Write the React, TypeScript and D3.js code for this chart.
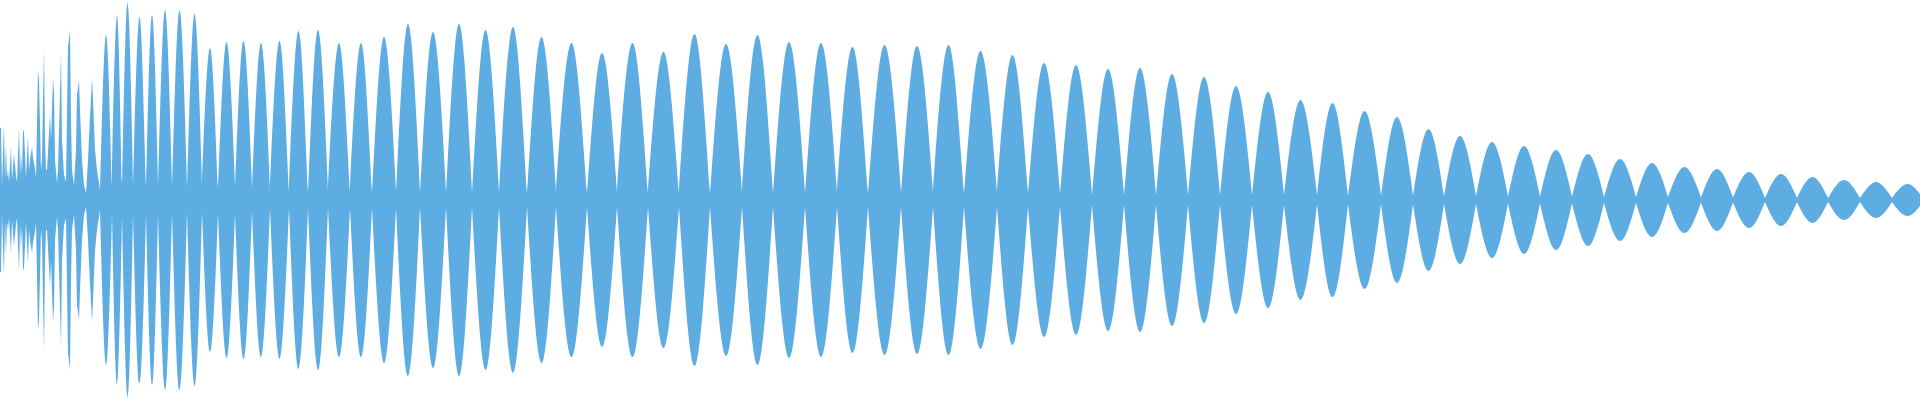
import * as d3 from 'd3';
import { useEffect, useRef } from 'react';

const width = 1920;
const height = 400;
const color = '#5dade2';

// onset: dense noisy spikes before the regular cycles start
const onsetTime = [
  0, 1, 2, 4, 5, 6, 7, 8, 9, 11, 12, 14, 16, 17, 19, 20, 21, 22, 23, 24, 26, 28,
  29, 30, 32, 33, 35, 36, 38, 39, 41, 42, 44, 45, 46, 47, 50, 51, 53, 54, 55, 57,
  58, 61, 62, 64, 66, 68, 70, 71, 72, 74, 76, 77, 79, 80, 82, 84, 86, 88, 89, 92,
  93, 95, 97, 100,
];
const onsetAmp = [
  72, 72, 14, 76, 20, 55, 22, 30, 18, 53, 20, 46, 24, 18, 72, 25, 48, 25, 70, 68,
  22, 64, 30, 40, 53, 42, 32, 22, 131, 119, 30, 40, 153, 60, 30, 30, 85, 60, 122,
  107, 40, 17, 30, 147, 60, 25, 18, 153, 170, 80, 30, 15, 50, 105, 120, 90, 40, 15,
  7, 40, 63, 122, 100, 50, 30, 10,
];

// regular cycles: boundaries (near-zero crossings) and envelope peak of each lobe
const crossings = [
  100, 112, 122, 133, 146, 158, 172, 187, 202, 218, 235, 252, 270, 289, 308, 328,
  350, 372, 396, 420, 446, 472, 499, 527, 556, 587, 617, 648, 679, 710, 742, 773,
  805, 837, 868, 901, 933, 964, 997, 1028, 1060, 1092, 1124, 1156, 1188, 1220,
  1252, 1284, 1317, 1348, 1381, 1413, 1444, 1476, 1508, 1540, 1572, 1604, 1636,
  1668, 1701, 1733, 1765, 1797, 1828, 1860, 1892, 1923,
];
const crossingAmp = [
  10, 15, 16, 15, 14, 14, 13, 12, 12, 13, 14, 12, 8, 8, 8, 8, 8, 8, 8, 7, 7, 7, 7,
  7, 7, 7, 7, 7, 7, 7, 7, 7, 7, 7, 7, 7, 7, 7, 7, 7, 6, 5, 5, 5, 5, 5, 5, 5, 4.5,
  4.5, 4.5, 4.5, 4, 4, 3.5, 3.5, 3.5, 3, 3, 3, 2.5, 2.5, 2, 2, 2, 2, 2, 2,
];
const peakAmp = [
  165, 184, 197, 183, 185, 190, 190, 186, 152, 158, 159, 157, 159, 169, 170, 157,
  157, 163, 176, 168, 176, 170, 173, 163, 157, 147, 157, 148, 166, 156, 165, 158,
  157, 153, 155, 154, 155, 149, 145, 137, 135, 131, 132, 126, 123, 114, 108, 100,
  97, 89, 83, 71, 64, 58, 54, 50, 46, 41, 37, 33, 31, 28, 26, 23, 20, 18, 16,
];

const Waveform = () => {
  const svgRef = useRef(null);

  useEffect(() => {
    const svg = d3.select(svgRef.current);
    svg.selectAll('*').remove();

    const x = d3.scaleLinear().domain([0, 1920]).range([0, width]);
    const y = d3.scaleLinear().domain([-200, 200]).range([height, 0]);

    const linear = d3
      .area()
      .x((d) => x(d[0]))
      .y0((d) => y(-d[1]))
      .y1((d) => y(d[1]));

    const onset = onsetTime.map((t, i) => [t, onsetAmp[i]]);
    svg.append('path').attr('d', linear(onset)).attr('fill', color);

    const lobe = d3
      .area()
      .x((d) => x(d[0]))
      .y0((d) => y(-d[1]))
      .y1((d) => y(d[1]))
      .curve(d3.curveNatural);

    const lobes = peakAmp.map((p, i) => {
      const a = crossings[i];
      const b = crossings[i + 1];
      return [
        [a, crossingAmp[i]],
        [(a + b) / 2, p],
        [b, crossingAmp[i + 1]],
      ];
    });

    svg
      .append('g')
      .selectAll('path')
      .data(lobes)
      .join('path')
      .attr('d', (d) => lobe(d))
      .attr('fill', color);
  }, []);

  return (
    <svg
      ref={svgRef}
      width={width}
      height={height}
      style={{ position: 'absolute', left: 0, top: 0, display: 'block' }}
    />
  );
};

export default function App() {
  return <Waveform />;
}
